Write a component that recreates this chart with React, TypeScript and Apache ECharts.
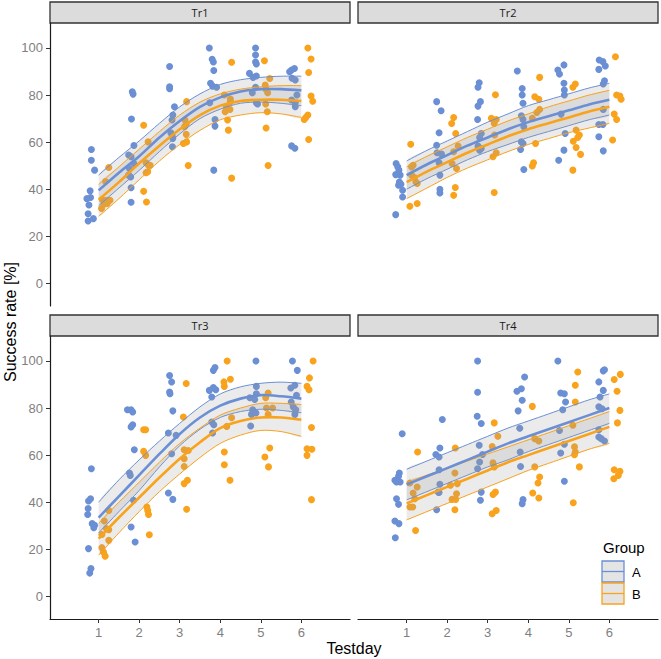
import React, { useEffect, useRef } from 'react';
import * as echarts from 'echarts';

const BLUE = '#6B8FD4';
const ORANGE = '#F9A21C';
const FONT = '"Liberation Sans", Arial, sans-serif';

const panelNames = ['Tr1', 'Tr2', 'Tr3', 'Tr4'];
const groups = ['A', 'B'];
const xTicks = [1, 2, 3, 4, 5, 6];
const yTicks = [0, 20, 40, 60, 80, 100];
const fitDays = [1, 1.5, 2, 2.5, 3, 3.5, 4, 4.5, 5, 5.5, 6];

// --- raw observations (jittered testday, success rate) ---
const tr1A = [
  [0.82, 56.9], [0.82, 52.3], [0.9, 48.1], [0.79, 39.3], [0.8, 36.5], [0.71, 36], [0.76, 33.3], [0.74, 29.6], [0.74, 26.5], [0.87, 27.5],
  [1.83, 81.4], [1.85, 80.4], [1.81, 69.8], [1.87, 58.6], [1.74, 54.5], [1.8, 53.8], [1.76, 48.8], [1.87, 50.9], [1.74, 46], [1.79, 45.2], [1.8, 40.6], [1.8, 34.5],
  [2.75, 92.1], [2.75, 83.5], [2.75, 82.7], [2.87, 75], [2.83, 71.5], [2.81, 69.4], [2.78, 64], [2.81, 63], [2.83, 61.6], [2.82, 58],
  [3.73, 100], [3.8, 95.2], [3.83, 94], [3.84, 90.4], [3.76, 85], [3.81, 83.8], [3.91, 83.3], [3.74, 76.7], [3.87, 69.6], [3.87, 66.8], [3.84, 48.1],
  [4.87, 100], [4.87, 97], [4.87, 94], [4.89, 93.2], [4.72, 89.2], [4.81, 87.5], [4.89, 88.1], [4.87, 83.3], [4.79, 81], [4.89, 76.7], [4.92, 76.2],
  [5.71, 89.9], [5.76, 90.6], [5.83, 91.3], [5.77, 87.1], [5.85, 86.4], [5.89, 80], [5.76, 77.9], [5.85, 76.7], [5.85, 75], [5.76, 58.4], [5.84, 57.4],
];
const tr1B = [
  [1.25, 49.2], [1.17, 43.3], [1.09, 35.6], [1.15, 34.9], [1.21, 35.3], [1.28, 35.3], [1.07, 31.8], [1.13, 33.6], [1.21, 33.9],
  [2.11, 67.2], [2.22, 60.1], [2.17, 51.2], [2.23, 50.2], [2.27, 50.2], [2.17, 47], [2.21, 47.4], [2.11, 39.1], [2.18, 34.6],
  [3.17, 77.2], [3.13, 69.4], [3.16, 67.7], [3.12, 66.5], [3.16, 63.3], [3.17, 60.1], [3.09, 59.4], [3.21, 50.1],
  [4.28, 93.9], [4.1, 80], [4.25, 78.3], [4.25, 77.2], [4.15, 75], [4.24, 73.9], [4.12, 72.9], [4.18, 69.4], [4.2, 65.1], [4.28, 44.7],
  [5.09, 94.6], [5.22, 87], [5.11, 84.3], [5.13, 82.4], [5.17, 81], [5.12, 76.2], [5.16, 72.9], [5.13, 66], [5.18, 50.1],
  [6.16, 100], [6.24, 95.3], [6.18, 89.6], [6.24, 79.6], [6.28, 77.4], [6.16, 71.5], [6.11, 70.5], [6.07, 69.6], [6.18, 61.1],
];
const tr2A = [
  [0.74, 50.9], [0.78, 49.5], [0.81, 48.1], [0.73, 46.2], [0.84, 46], [0.82, 43.1], [0.86, 42.1], [0.8, 41.7], [0.9, 39.6], [0.9, 36.7], [0.73, 29.2],
  [1.74, 77.2], [1.85, 73.3], [1.8, 64], [1.74, 58.7], [1.75, 55.5], [1.86, 54.9], [1.8, 51.2], [1.82, 46], [1.82, 40], [1.82, 38.4],
  [2.79, 85.2], [2.76, 83.3], [2.82, 77.2], [2.76, 75.3], [2.75, 69.6], [2.84, 63.7], [2.8, 62], [2.76, 58.3], [2.84, 57.3], [2.8, 56.6],
  [3.73, 90.2], [3.85, 82.8], [3.85, 80], [3.87, 76.5], [3.83, 71.2], [3.87, 69.6], [3.89, 66.5], [3.83, 60.1], [3.87, 59.4], [3.81, 56.9], [3.89, 48.4],
  [4.73, 90.6], [4.88, 92.8], [4.77, 88.9], [4.88, 85], [4.89, 82.1], [4.89, 80], [4.81, 71.9], [4.91, 63.7], [4.88, 56.6], [4.75, 52.3],
  [5.75, 94.9], [5.84, 94.2], [5.9, 92.3], [5.74, 90.9], [5.88, 86.1], [5.85, 84.7], [5.85, 73.9], [5.74, 67.5], [5.84, 67.5], [5.74, 62.3], [5.85, 56.3],
];
const tr2B = [
  [1.1, 59.1], [1.16, 50.2], [1.12, 49.5], [1.12, 46], [1.19, 45], [1.23, 43.1], [1.26, 42.4], [1.08, 32.8], [1.26, 33.9],
  [2.16, 70.5], [2.11, 67.9], [2.21, 63.7], [2.27, 58.3], [2.16, 55.9], [2.12, 50.9], [2.23, 48.8], [2.2, 40.7], [2.16, 37.4],
  [3.19, 80.1], [3.09, 70.1], [3.21, 69.6], [3.16, 67.9], [3.17, 63], [3.21, 55.5], [3.13, 53.8], [3.16, 38.6],
  [4.28, 87.5], [4.16, 79.3], [4.26, 78.2], [4.28, 73.9], [4.21, 72.6], [4.1, 70.1], [4.18, 59.4], [4.13, 51.2], [4.1, 49.9],
  [5.1, 83.3], [5.16, 84.7], [5.18, 65.1], [5.26, 63], [5.22, 62], [5.11, 60.4], [5.18, 57.7], [5.29, 54.8], [5.1, 48.1],
  [6.15, 96.3], [6.18, 80], [6.26, 79.6], [6.29, 78.2], [6.12, 71.9], [6.18, 69.6], [6.08, 60.9],
];
const tr3A = [
  [0.82, 54.2], [0.8, 41.5], [0.75, 40.5], [0.74, 37.3], [0.73, 34.8], [0.84, 30.9], [0.9, 30.2], [0.88, 29.2], [0.75, 20.3], [0.81, 11.8], [0.78, 9.9],
  [1.71, 79.3], [1.8, 79.3], [1.84, 78.3], [1.84, 72.9], [1.8, 72], [1.88, 62.3], [1.76, 52.4], [1.78, 51.4], [1.86, 40.8], [1.8, 29.5], [1.9, 23.1],
  [2.75, 93.8], [2.8, 91.1], [2.75, 86.8], [2.76, 86.1], [2.83, 78.8], [2.72, 69.4], [2.91, 68.4], [2.8, 60.6], [2.72, 43.9], [2.83, 41.2],
  [3.87, 97.2], [3.83, 96], [3.73, 87.5], [3.83, 88.7], [3.89, 87.8], [3.79, 84.7], [3.79, 74.1], [3.84, 72.9], [3.81, 69.4],
  [4.88, 100], [4.89, 89.2], [4.73, 84.4], [4.85, 83.6], [4.89, 86.1], [4.8, 79.3], [4.81, 78.3], [4.88, 77.9], [4.77, 77.3], [4.75, 72.4],
  [5.78, 100], [5.9, 96], [5.74, 88.5], [5.84, 89.7], [5.88, 85.4], [5.75, 82.6], [5.8, 80.5], [5.86, 79.3], [5.84, 77.3],
];
const tr3B = [
  [1.25, 36.5], [1.14, 32], [1.19, 28.8], [1.25, 28.3], [1.08, 26.3], [1.08, 20.7], [1.12, 18.8], [1.16, 17.1], [1.25, 23.8],
  [2.11, 70.8], [2.16, 70.8], [2.11, 61.6], [2.16, 59.9], [2.19, 38], [2.21, 36.5], [2.23, 34.8], [2.25, 26.2],
  [3.16, 90.4], [3.09, 76.2], [3.11, 62.3], [3.21, 62], [3.11, 58.5], [3.11, 55.2], [3.11, 47.9], [3.19, 49.3], [3.17, 37],
  [4.17, 100], [4.25, 92.2], [4.09, 91.1], [4.1, 89.2], [4.28, 75.9], [4.16, 72.2], [4.1, 61.3], [4.1, 55.9], [4.24, 49.3],
  [5.18, 86.4], [5.12, 84.4], [5.14, 80], [5.29, 80], [5.18, 77.2], [5.22, 63], [5.1, 59.2], [5.19, 55],
  [6.29, 100], [6.2, 92.8], [6.14, 89.2], [6.19, 87.8], [6.25, 71.7], [6.14, 62.7], [6.26, 62.5], [6.14, 59.9], [6.25, 41.1],
];
const tr4A = [
  [0.89, 69.1], [0.82, 52.4], [0.8, 51], [0.71, 49.3], [0.84, 48.6], [0.75, 48.6], [0.75, 41.5], [0.8, 39.1], [0.71, 32], [0.81, 30.9], [0.72, 24.9],
  [1.88, 75.1], [1.82, 63], [1.72, 60.3], [1.8, 59.2], [1.8, 53.8], [1.82, 47.6], [1.78, 44.3], [1.8, 44.1], [1.74, 36.8],
  [2.75, 100], [2.75, 86.7], [2.74, 76.5], [2.84, 73.4], [2.79, 64.2], [2.87, 60.3], [2.8, 57.1], [2.75, 54.2], [2.84, 44.3], [2.82, 40.8],
  [3.91, 93.2], [3.72, 87.1], [3.83, 88.2], [3.85, 83.3], [3.75, 78.8], [3.79, 71.4], [3.8, 61.3], [3.81, 55.2], [3.87, 41.1], [3.85, 39.4],
  [4.73, 100], [4.8, 86.4], [4.89, 86.1], [4.92, 82.6], [4.85, 79.3], [4.77, 70.5], [4.89, 64.6], [4.8, 60.9], [4.89, 48.9],
  [5.85, 95.8], [5.88, 96.3], [5.74, 91.1], [5.85, 87.5], [5.77, 84.7], [5.74, 80.5], [5.82, 79.7], [5.74, 70.8], [5.74, 67.7], [5.8, 67], [5.88, 66],
];
const tr4B = [
  [1.27, 61.3], [1.08, 48.2], [1.26, 46.5], [1.16, 43.9], [1.2, 41.5], [1.08, 38], [1.15, 38], [1.22, 28],
  [2.2, 63], [2.19, 52.4], [2.25, 47.9], [2.08, 47.2], [2.23, 43.6], [2.12, 41.2], [2.21, 41.2], [2.19, 36.8],
  [3.16, 73.7], [3.25, 68], [3.11, 63.7], [3.13, 56.7], [3.16, 55], [3.19, 44.3], [3.13, 43.3], [3.21, 36.5], [3.11, 35.1],
  [4.1, 80.7], [4.16, 67], [4.26, 66], [4.16, 55], [4.28, 50.7], [4.24, 48.2], [4.11, 43.9], [4.26, 41.8],
  [5.22, 95.3], [5.16, 89.7], [5.16, 82.6], [5.1, 72.7], [5.14, 63.5], [5.16, 61.3], [5.14, 60.2], [5.26, 55], [5.11, 39.8],
  [6.27, 94.3], [6.12, 92.1], [6.19, 87.1], [6.26, 79], [6.2, 73.7], [6.12, 53.8], [6.26, 53.1], [6.22, 51.4], [6.11, 50],
];

// --- fitted curves with confidence bounds, sampled at fitDays ---
const tr1AFit = [39.5, 47, 54, 62, 69, 75, 79, 81.5, 82.5, 82.5, 82];
const tr1ALo = [33, 40.5, 48, 56, 63.5, 70, 74, 76.5, 77, 76.5, 75.5];
const tr1AHi = [46, 53.5, 60.5, 68, 75, 80.5, 84.5, 86.5, 87.5, 88, 88];
const tr1BFit = [35.5, 43, 51, 58.5, 65.5, 71.5, 75.5, 77.5, 78, 78, 77.5];
const tr1BLo = [28.5, 36, 44, 52, 59, 65, 69.5, 71.5, 72.5, 72, 70.5];
const tr1BHi = [42, 49.5, 57, 64.5, 71.5, 77, 80.5, 82.5, 83.5, 84, 84];

const tr2AFit = [46, 50.5, 54.5, 58.5, 62, 65.5, 68.5, 71, 73.5, 76, 78];
const tr2ALo = [40, 44.5, 48.5, 52.5, 56, 59, 62, 64.5, 67, 69.5, 71.5];
const tr2AHi = [52, 56.5, 60.5, 64.5, 68.5, 72, 75.5, 78, 80.5, 83, 85];
const tr2BFit = [43, 47.5, 51.5, 55.5, 59, 62.5, 65.5, 68, 70.5, 73, 75];
const tr2BLo = [36, 40.5, 45, 49, 52.5, 56, 59, 61.5, 64, 66, 68];
const tr2BHi = [49.5, 54, 58, 62, 65.5, 69, 72, 75, 77.5, 80, 82];

const tr3AFit = [33.5, 42.5, 51.5, 60.5, 69, 76, 81, 84, 85.5, 85, 84];
const tr3ALo = [27, 36, 45, 55, 64, 71, 76, 78.5, 79.5, 79, 78];
const tr3AHi = [40, 49.5, 58, 66, 73.5, 80.5, 86, 89, 90.5, 91, 90.5];
const tr3BFit = [24.5, 33.5, 42, 50.5, 58.5, 65.5, 71.5, 74.5, 76, 76, 75];
const tr3BLo = [17.5, 27, 36, 44.5, 52, 59, 65, 68.5, 70.5, 70, 68];
const tr3BHi = [31, 40, 48.5, 57, 65, 71.5, 77, 80, 82, 82, 81.5];

const tr4AFit = [47.5, 51, 54.5, 58, 61.5, 65, 68, 71, 74, 77, 80];
const tr4ALo = [41, 44.5, 48, 51.5, 55, 58, 61.5, 64.5, 67.5, 70.5, 73.5];
const tr4AHi = [54, 57.5, 61, 64.5, 68, 71.5, 74.5, 77.5, 80.5, 83.5, 86];
const tr4BFit = [39.5, 43, 46.5, 50, 53.5, 57, 60, 63, 66, 69, 72];
const tr4BLo = [32.5, 36, 39.5, 43, 46.5, 50, 53.5, 56.5, 59.5, 62.5, 65];
const tr4BHi = [48.5, 51.5, 54.5, 57.5, 60.5, 63.5, 66.5, 69.5, 72.5, 75.5, 78.5];

const points = [[tr1A, tr1B], [tr2A, tr2B], [tr3A, tr3B], [tr4A, tr4B]];
const fits = [
  [[tr1AFit, tr1ALo, tr1AHi], [tr1BFit, tr1BLo, tr1BHi]],
  [[tr2AFit, tr2ALo, tr2AHi], [tr2BFit, tr2BLo, tr2BHi]],
  [[tr3AFit, tr3ALo, tr3AHi], [tr3BFit, tr3BLo, tr3BHi]],
  [[tr4AFit, tr4ALo, tr4AHi], [tr4BFit, tr4BLo, tr4BHi]],
];

// panel layout (px)
const panelBox = [
  { left: 50, top: 23 },
  { left: 358, top: 23 },
  { left: 50, top: 336 },
  { left: 358, top: 336 },
];
const PW = 300;
const PH = 283;
const SMOOTH = 0.3;

const bbox = (pts: number[][]) => {
  const xs = pts.map(p => p[0]);
  const ys = pts.map(p => p[1]);
  return [[Math.min(...xs), Math.min(...ys)], [Math.max(...xs), Math.max(...ys)]];
};

const App: React.FC = () => {
  const chartRef = useRef<HTMLDivElement>(null);

  useEffect(() => {
    if (!chartRef.current) return;
    const chart = echarts.init(chartRef.current, undefined, { renderer: 'svg' });
    const colors = [BLUE, ORANGE];

    const grid = panelBox.map(p => ({ left: p.left, top: p.top, width: PW, height: PH }));

    const xAxis = panelBox.map((_, i) => {
      const bottom = i >= 2;
      return {
        type: 'value',
        gridIndex: i,
        min: -0.2,
        max: 7.2,
        splitLine: { show: false },
        axisLine: { show: bottom, onZero: false, lineStyle: { color: '#1a1a1a', width: 1.2 } },
        axisTick: { show: bottom, customValues: xTicks, length: 4, lineStyle: { color: '#333' } },
        axisLabel: { show: bottom, customValues: xTicks, color: '#7f7f7f', fontSize: 13, fontFamily: FONT, margin: 7 },
      };
    });

    const yAxis = panelBox.map((_, i) => {
      const left = i % 2 === 0;
      return {
        type: 'value',
        gridIndex: i,
        min: -9.6,
        max: 110.6,
        splitLine: { show: false },
        axisLine: { show: left, onZero: false, lineStyle: { color: '#1a1a1a', width: 1.2 } },
        axisTick: { show: left, customValues: yTicks, length: 4, lineStyle: { color: '#333' } },
        axisLabel: { show: left, customValues: yTicks, color: '#7f7f7f', fontSize: 13, fontFamily: FONT, margin: 7 },
      };
    });

    const series: any[] = [];
    panelBox.forEach((_, i) => {
      // observations
      groups.forEach((g, gi) => {
        series.push({
          name: g,
          type: 'scatter',
          xAxisIndex: i,
          yAxisIndex: i,
          data: points[i][gi],
          symbolSize: 7,
          itemStyle: { color: colors[gi], opacity: 1 },
          z: 1,
        });
      });
      // confidence ribbons with outline
      groups.forEach((_g, gi) => {
        const [fit, lo, hi] = fits[i][gi];
        series.push({
          type: 'custom',
          xAxisIndex: i,
          yAxisIndex: i,
          data: fitDays.map((d, k) => [d, fit[k], lo[k], hi[k]]),
          encode: { x: 0, y: 1 },
          z: 2,
          silent: true,
          renderItem: (params: any, api: any) => {
            if (params.dataIndex !== 0) return null;
            const loPts = fitDays.map((d, k) => api.coord([d, lo[k]]));
            const hiPts = fitDays.map((d, k) => api.coord([d, hi[k]]));
            const ring = hiPts.concat(loPts.slice().reverse());
            return {
              type: 'group',
              children: [
                {
                  type: 'polygon',
                  shape: { points: ring, smooth: SMOOTH, smoothConstraint: bbox(ring) },
                  style: { fill: 'rgba(153,153,153,0.2)', stroke: 'none' },
                },
                {
                  type: 'polyline',
                  shape: { points: loPts, smooth: SMOOTH },
                  style: { stroke: colors[gi], lineWidth: 1, fill: 'none' },
                },
                {
                  type: 'polyline',
                  shape: { points: hiPts, smooth: SMOOTH },
                  style: { stroke: colors[gi], lineWidth: 1, fill: 'none' },
                },
              ],
            };
          },
        });
      });
      // fitted means
      groups.forEach((_g, gi) => {
        const [fit] = fits[i][gi];
        series.push({
          type: 'custom',
          xAxisIndex: i,
          yAxisIndex: i,
          data: fitDays.map((d, k) => [d, fit[k]]),
          encode: { x: 0, y: 1 },
          z: 3,
          silent: true,
          renderItem: (params: any, api: any) => {
            if (params.dataIndex !== 0) return null;
            const pts = fitDays.map((d, k) => api.coord([d, fit[k]]));
            return {
              type: 'polyline',
              shape: { points: pts, smooth: SMOOTH },
              style: { stroke: colors[gi], lineWidth: 2.6, fill: 'none' },
            };
          },
        });
      });
    });

    // facet strips
    const strips: any[] = [];
    panelBox.forEach((p, i) => {
      const top = i < 2 ? 2 : 315;
      strips.push({
        type: 'rect',
        shape: { x: p.left, y: top, width: PW, height: p.top - top },
        style: { fill: '#dcdcdc', stroke: '#333', lineWidth: 1.3 },
      });
      strips.push({
        type: 'text',
        x: p.left + PW / 2,
        y: (top + p.top) / 2,
        style: { text: panelNames[i], fill: '#1a1a1a', fontSize: 11, fontFamily: '"Open Sans", sans-serif', align: 'center', verticalAlign: 'middle' },
      });
    });

    const legend: any[] = [
      { type: 'text', x: 603, y: 547, style: { text: 'Group', fill: '#000', fontSize: 15, fontFamily: FONT, verticalAlign: 'middle' } },
    ];
    groups.forEach((g, gi) => {
      const y = 561 + gi * 22;
      legend.push({ type: 'rect', shape: { x: 602, y, width: 22, height: 21 }, style: { fill: '#e4e4e4', stroke: colors[gi], lineWidth: 1.3 } });
      legend.push({ type: 'line', shape: { x1: 602, y1: y + 10.5, x2: 624, y2: y + 10.5 }, style: { stroke: colors[gi], lineWidth: 1.3 } });
      legend.push({ type: 'text', x: 632, y: y + 11, style: { text: g, fill: '#000', fontSize: 13, fontFamily: FONT, verticalAlign: 'middle' } });
    });

    const titles: any[] = [
      {
        type: 'text', x: 10, y: 322, rotation: Math.PI / 2,
        style: { text: 'Success rate [%]', fill: '#000', fontSize: 16, fontFamily: FONT, align: 'center', verticalAlign: 'middle' },
      },
      {
        type: 'text', x: 354, y: 648,
        style: { text: 'Testday', fill: '#000', fontSize: 16, fontFamily: FONT, align: 'center', verticalAlign: 'middle' },
      },
    ];

    chart.setOption({
      animation: false,
      backgroundColor: '#fff',
      grid,
      xAxis,
      yAxis,
      series,
      graphic: [...strips, ...legend, ...titles],
    });

    return () => chart.dispose();
  }, []);

  return <div ref={chartRef} style={{ position: 'absolute', left: 0, top: 0, width: 661, height: 659 }} />;
};

export default App;
